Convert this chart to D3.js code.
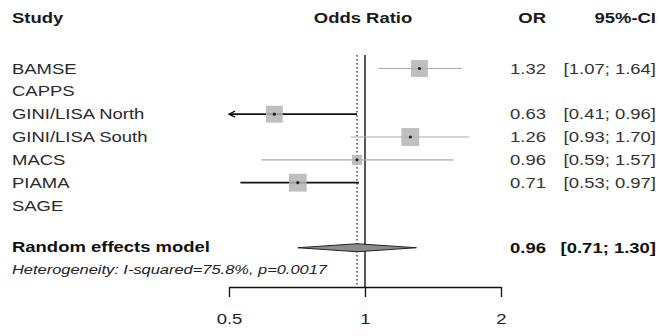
<!DOCTYPE html>
<html>
<head>
<meta charset="utf-8">
<script src="https://cdn.jsdelivr.net/npm/d3@7"></script>
<style>
  body { margin: 0; background: #fff; }
  text { font-family: "Liberation Sans", Arial, sans-serif; }
</style>
</head>
<body>
<svg></svg>
<script>
const width = 658;
const height = 336;

// study rows
const studies = ['BAMSE', 'CAPPS', 'GINI/LISA North', 'GINI/LISA South', 'MACS', 'PIAMA', 'SAGE'];
const oddsRatio = [1.32, null, 0.63, 1.26, 0.96, 0.71, null];
const ciLower = [1.07, null, 0.41, 0.93, 0.59, 0.53, null];
const ciUpper = [1.64, null, 0.96, 1.70, 1.57, 0.97, null];
const weights = [22, null, 22, 24.5, 8, 24.5, null]; // % weight

// pooled estimate
const pooledLabel = 'Random effects model';
const pooledOR = 0.96;
const pooledCI = [0.71, 1.30];
const heterogeneity = 'Heterogeneity: I-squared=75.8%, p=0.0017';

const xTicks = [0.5, 1, 2];

const sx = 1.32; // the picture's text is stretched sideways
const fmt = d3.format('.2f');

const svg = d3.select('svg')
    .attr('width', width)
    .attr('height', height);

const x = d3.scaleLog().domain([0.5, 2]).range([229, 501]);
const y = d3.scaleLinear().domain([0, studies.length - 1]).range([68.5, 205.5]);
const yPooled = y(7.85);
const box = d3.scaleSqrt().domain([0, 25]).range([0, 18]);

function label(x0, y0, str, opts = {}) {
    return svg.append('text')
        .attr('transform', `translate(${x0},${y0}) scale(${opts.sx || sx},1)`)
        .attr('text-anchor', opts.anchor || 'start')
        .attr('font-size', opts.size || 14)
        .attr('font-weight', opts.bold ? 'bold' : 'normal')
        .attr('font-style', opts.italic ? 'italic' : 'normal')
        .attr('fill', opts.fill || '#1a1a1a')
        .text(str);
}

// headers
label(12, 23, 'Study', {bold: true});
label(363, 23, 'Odds Ratio', {bold: true, anchor: 'middle'});
label(546, 23, 'OR', {bold: true, anchor: 'end'});
label(656, 23, '95%-CI', {bold: true, anchor: 'end'});

// reference lines
svg.append('line')
    .attr('x1', x(1)).attr('x2', x(1))
    .attr('y1', 55).attr('y2', 287)
    .attr('stroke', '#111').attr('stroke-width', 1.4);

svg.append('line')
    .attr('x1', x(pooledOR)).attr('x2', x(pooledOR))
    .attr('y1', 55).attr('y2', 286)
    .attr('stroke', '#222').attr('stroke-width', 1.2)
    .attr('stroke-dasharray', '1.5,2.5');

// study rows
const rows = studies.map((name, i) => ({
    name, i, or: oddsRatio[i], lo: ciLower[i], hi: ciUpper[i], w: weights[i]
}));

rows.forEach(d => {
    label(12, y(d.i) + 5, d.name, {fill: '#2a2a2a'});
    if (d.or == null) return;
    label(546, y(d.i) + 5, fmt(d.or), {anchor: 'end', fill: '#333'});
    label(656, y(d.i) + 5, `[${fmt(d.lo)}; ${fmt(d.hi)}]`, {anchor: 'end', fill: '#333'});
});

const est = rows.filter(d => d.or != null);

const g = svg.append('g');

g.selectAll('line.ci')
    .data(est)
    .enter()
    .append('line')
    .attr('class', 'ci')
    .attr('x1', d => x(Math.max(d.lo, 0.5)))
    .attr('x2', d => x(Math.min(d.hi, 2)))
    .attr('y1', d => y(d.i))
    .attr('y2', d => y(d.i))
    .attr('stroke', d => d.hi < 1 ? '#111' : '#aaa')
    .attr('stroke-width', d => d.hi < 1 ? 1.6 : 1.1);

// arrows where the interval runs past the axis
g.selectAll('path.arrow')
    .data(est.filter(d => d.lo < 0.5))
    .enter()
    .append('path')
    .attr('class', 'arrow')
    .attr('d', d => `M${x(0.5) + 6},${y(d.i) - 3}L${x(0.5)},${y(d.i)}L${x(0.5) + 6},${y(d.i) + 3}`)
    .attr('fill', 'none')
    .attr('stroke', '#111')
    .attr('stroke-width', 1.3);

g.selectAll('rect.box')
    .data(est)
    .enter()
    .append('rect')
    .attr('class', 'box')
    .attr('x', d => x(d.or) - box(d.w) / 2)
    .attr('y', d => y(d.i) - box(d.w) / 2)
    .attr('width', d => box(d.w))
    .attr('height', d => box(d.w))
    .attr('fill', '#b4b4b4')
    .attr('fill-opacity', 0.85);

g.selectAll('circle.pt')
    .data(est)
    .enter()
    .append('circle')
    .attr('class', 'pt')
    .attr('cx', d => x(d.or))
    .attr('cy', d => y(d.i))
    .attr('r', 1.6)
    .attr('fill', '#222');

// pooled diamond
svg.append('path')
    .attr('d', `M${x(pooledCI[0])},${yPooled}L${x(pooledOR)},${yPooled - 4}L${x(pooledCI[1])},${yPooled}L${x(pooledOR)},${yPooled + 4}Z`)
    .attr('fill', '#8c8c8c')
    .attr('stroke', '#222')
    .attr('stroke-width', 1);

label(12, yPooled + 4, pooledLabel, {bold: true, fill: '#111'});
label(546, yPooled + 5, fmt(pooledOR), {bold: true, anchor: 'end', fill: '#111'});
label(656, yPooled + 5, `[${fmt(pooledCI[0])}; ${fmt(pooledCI[1])}]`, {bold: true, anchor: 'end', fill: '#111'});
label(12, yPooled + 26, heterogeneity, {italic: true, size: 12, sx: 1.37, fill: '#222'});

// x axis
const axis = svg.append('g')
    .attr('transform', 'translate(0,287)')
    .call(d3.axisBottom(x)
        .tickValues(xTicks)
        .tickFormat(d => d)
        .tickSize(10)
        .tickSizeOuter(0)
        .tickPadding(17));

axis.select('.domain').attr('stroke', '#111').attr('stroke-width', 1.4);
axis.selectAll('.tick line').attr('stroke', '#111').attr('stroke-width', 1.3);
axis.selectAll('.tick text')
    .attr('font-size', 14)
    .attr('font-family', '"Liberation Sans", Arial, sans-serif')
    .attr('fill', '#222')
    .attr('transform', `scale(${sx},1)`);
</script>
</body>
</html>
